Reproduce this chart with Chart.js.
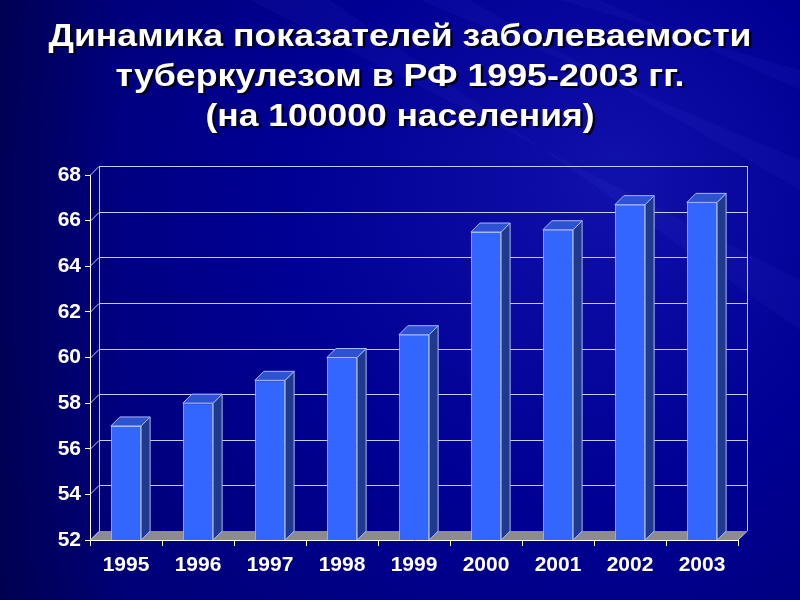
<!DOCTYPE html>
<html>
<head>
<meta charset="utf-8">
<script src="https://cdn.jsdelivr.net/npm/chart.js@4.4.1/dist/chart.umd.min.js"></script>
<style>
  html, body { margin: 0; padding: 0; background: #000080; }
  #wrap { width: 800px; height: 600px; }
</style>
</head>
<body>
<div id="wrap"><canvas id="tbChart" width="800" height="600"></canvas></div>
<script>
const years = ['1995', '1996', '1997', '1998', '1999', '2000', '2001', '2002', '2003'];
const incidence = [57.0, 58.0, 59.0, 60.0, 61.0, 65.5, 65.6, 66.7, 66.8];
const yTicks = [52, 54, 56, 58, 60, 62, 64, 66, 68];
const titleLines = [
    'Динамика показателей заболеваемости',
    'туберкулезом в РФ 1995-2003 гг.',
    '(на 100000 населения)'
];
// the slide text is horizontally stretched, these are its line widths
const titleWidths = [703, 569, 389];

// depth of the pseudo 3D box
const DX = 9, DY = 9;
const FONT = '"Liberation Sans", Arial, sans-serif';

const backdrop = {
    id: 'backdrop',
    beforeDraw(chart) {
        const ctx = chart.ctx;
        const w = chart.width, h = chart.height;
        ctx.save();
        const g = ctx.createRadialGradient(620, 180, 20, 520, 260, 620);
        g.addColorStop(0, '#1010aa');
        g.addColorStop(0.45, '#000094');
        g.addColorStop(1, '#00006c');
        ctx.fillStyle = g;
        ctx.fillRect(0, 0, w, h);
        const side = ctx.createLinearGradient(0, 0, 120, 0);
        side.addColorStop(0, 'rgba(0,0,50,0.45)');
        side.addColorStop(1, 'rgba(0,0,50,0)');
        ctx.fillStyle = side;
        ctx.fillRect(0, 0, 120, h);
        // a few faint rays
        ctx.globalAlpha = 0.06;
        ctx.fillStyle = '#6a6aff';
        [[250, 0, 330, 0, 800, 330, 800, 280], [420, 0, 470, 0, 800, 190, 800, 160], [560, 0, 600, 0, 800, 90, 800, 70]].forEach(p => {
            ctx.beginPath();
            ctx.moveTo(p[0], p[1]); ctx.lineTo(p[2], p[3]); ctx.lineTo(p[4], p[5]); ctx.lineTo(p[6], p[7]);
            ctx.closePath();
            ctx.fill();
        });
        ctx.restore();

        // title
        ctx.save();
        ctx.font = 'bold 31px ' + FONT;
        ctx.textAlign = 'center';
        ctx.textBaseline = 'middle';
        titleLines.forEach((t, i) => {
            const y = 37 + i * 40;
            const sx = titleWidths[i] / ctx.measureText(t).width;
            ctx.save();
            ctx.translate(400, y);
            ctx.scale(sx, 1);
            ctx.fillStyle = 'rgba(0,0,20,0.9)';
            ctx.fillText(t, 2.5 / sx, 2.5);
            ctx.fillStyle = '#ffffff';
            ctx.fillText(t, 0, 0);
            ctx.restore();
        });
        ctx.restore();
    }
};

const box3d = {
    id: 'box3d',
    beforeDatasetsDraw(chart) {
        const ctx = chart.ctx;
        const a = chart.chartArea;
        const ys = chart.scales.y;
        ctx.save();
        // floor
        ctx.fillStyle = '#8c8c8c';
        ctx.beginPath();
        ctx.moveTo(a.left, a.bottom);
        ctx.lineTo(a.right, a.bottom);
        ctx.lineTo(a.right + DX, a.bottom - DY);
        ctx.lineTo(a.left + DX, a.bottom - DY);
        ctx.closePath();
        ctx.fill();
        // back wall grid and left wall diagonals
        ctx.lineWidth = 1;
        ctx.strokeStyle = '#c8c8f0';
        yTicks.forEach(v => {
            const y = Math.round(ys.getPixelForValue(v)) + 0.5;
            ctx.beginPath();
            ctx.moveTo(a.left, y);
            ctx.lineTo(a.left + DX, y - DY);
            if (v !== yTicks[0]) ctx.lineTo(a.right + DX, y - DY);
            ctx.stroke();
        });
        ctx.beginPath();
        ctx.moveTo(a.left + DX + 0.5, a.top - DY);
        ctx.lineTo(a.left + DX + 0.5, a.bottom - DY);
        ctx.moveTo(a.right + DX + 0.5, a.top - DY);
        ctx.lineTo(a.right + DX + 0.5, a.bottom - DY);
        ctx.lineTo(a.right, a.bottom);
        ctx.stroke();
        ctx.restore();
    },
    afterDatasetsDraw(chart) {
        const ctx = chart.ctx;
        const a = chart.chartArea;
        const meta = chart.getDatasetMeta(0);
        ctx.save();
        ctx.lineWidth = 1;
        ctx.strokeStyle = '#a8b8ff';
        meta.data.forEach(bar => {
            const p = bar.getProps(['x', 'y', 'base', 'width'], true);
            const l = p.x - p.width / 2, r = p.x + p.width / 2;
            const t = p.y, b = Math.min(p.base, a.bottom);
            // side
            ctx.fillStyle = '#1f3a8c';
            ctx.beginPath();
            ctx.moveTo(r, t);
            ctx.lineTo(r + DX, t - DY);
            ctx.lineTo(r + DX, b - DY);
            ctx.lineTo(r, b);
            ctx.closePath();
            ctx.fill();
            ctx.stroke();
            // top
            ctx.fillStyle = '#2d52d2';
            ctx.beginPath();
            ctx.moveTo(l, t);
            ctx.lineTo(l + DX, t - DY);
            ctx.lineTo(r + DX, t - DY);
            ctx.lineTo(r, t);
            ctx.closePath();
            ctx.fill();
            ctx.stroke();
        });
        ctx.restore();
    }
};

new Chart(document.getElementById('tbChart'), {
    type: 'bar',
    data: {
        labels: years,
        datasets: [{
            data: incidence,
            backgroundColor: '#3366ff',
            borderColor: '#a8b8ff',
            borderWidth: 1,
            barPercentage: 0.42,
            categoryPercentage: 1.0
        }]
    },
    options: {
        responsive: false,
        animation: false,
        layout: { padding: { top: 175, right: 62, bottom: 6, left: 0 } },
        plugins: {
            legend: { display: false },
            tooltip: { enabled: false }
        },
        scales: {
            x: {
                offset: true,
                grid: { drawOnChartArea: false, color: '#ffffff', tickLength: 6, tickWidth: 1 },
                border: { color: '#ffffff', width: 1 },
                ticks: {
                    color: '#ffffff',
                    padding: 7,
                    maxRotation: 0,
                    autoSkip: false,
                    font: { family: FONT, size: 21, weight: 'bold' }
                },
                afterFit(scale) { scale.height = 54; }
            },
            y: {
                min: 52,
                max: 68,
                ticks: {
                    stepSize: 2,
                    color: '#ffffff',
                    padding: 4,
                    font: { family: FONT, size: 21, weight: 'bold' }
                },
                grid: { drawOnChartArea: false, color: '#ffffff', tickLength: 5 },
                border: { color: '#ffffff', width: 1 },
                afterFit(scale) { scale.width = 90; }
            }
        }
    },
    plugins: [backdrop, box3d]
});
</script>
</body>
</html>
